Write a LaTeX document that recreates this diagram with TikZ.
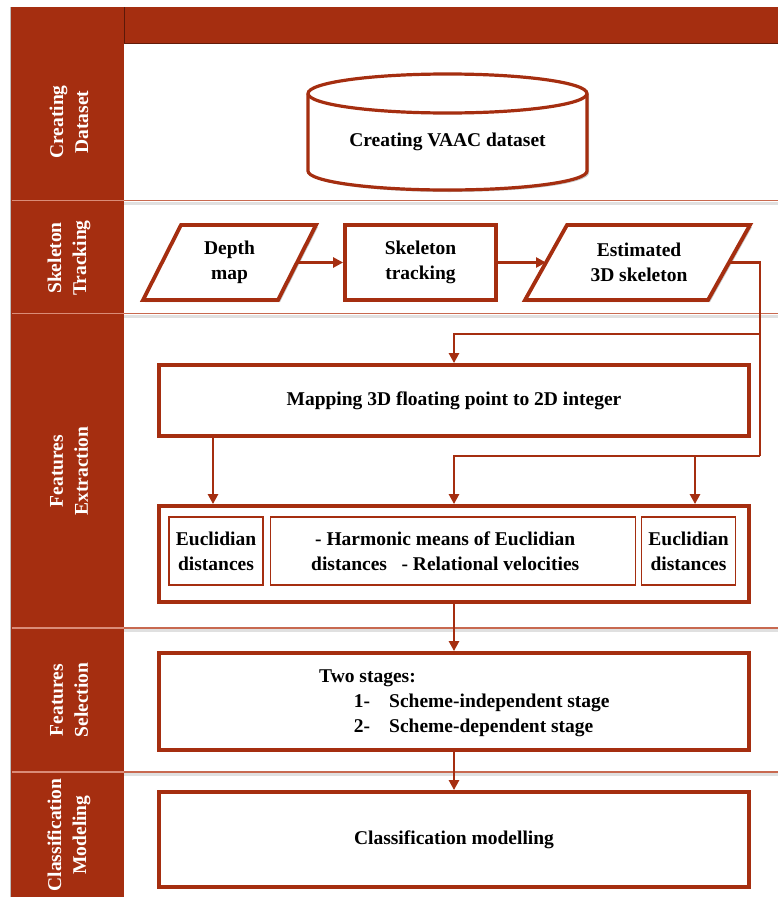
\documentclass[tikz,border=0pt]{standalone}
\usepackage{fontspec}
\setmainfont{Liberation Serif}
\usetikzlibrary{arrows.meta,shadows}
\definecolor{myred}{RGB}{165,46,16}
\definecolor{divred}{RGB}{200,105,80}
\definecolor{bandline}{RGB}{218,140,120}
\begin{document}
\begin{tikzpicture}[x=1pt,y=-1pt,
  font=\fontsize{19.5}{25}\selectfont\bfseries,
  shd/.style={drop shadow={shadow xshift=2pt,shadow yshift=-2pt,opacity=0.22,fill=black}},
  bigbox/.style={draw=myred,line width=3.8pt,fill=white,shd,minimum width=590pt,inner sep=0pt,align=center},
  smallbox/.style={draw=myred,line width=3.8pt,fill=white,shd,inner sep=0pt,align=center},
  inbox/.style={draw=myred,line width=1.3pt,inner sep=0pt,align=center,minimum height=68pt},
  para/.style={draw=myred,line width=3.8pt,fill=white,shd,line join=miter},
  txt/.style={align=center,inner sep=0pt},
  band/.style={text=white,rotate=90,align=center,inner sep=0pt},
  ln/.style={draw=myred,line width=2.7pt},
  arr/.style={ln,-{Triangle[length=10pt,width=10pt]}},
  divl/.style={draw=divred,line width=1.3pt},
  divs/.style={draw=black!12,line width=3pt},
  bandl/.style={draw=bandline,line width=1.8pt}
]
\useasboundingbox (0,0) rectangle (778,897);
% band and header
\fill[myred] (10,7) rectangle (778,43);
\fill[myred] (10,7) rectangle (124,897);
\draw[black!25,line width=0.8pt] (10,7) -- (10,897);
\draw[black!45!myred,line width=1pt] (124,7) -- (124,43);
\draw[black!40!myred,line width=1pt] (124,43) -- (778,43);
% dividers
\foreach \yy in {200.5,313.5,628,772}{
  \draw[divs] (124,\yy+2.5) -- (778,\yy+2.5);
  \draw[divl] (124,\yy) -- (778,\yy);
  \draw[bandl] (12,\yy) -- (124,\yy);
}
% band labels
\node[band] (l1) at (69,122) {Creating\\Dataset};
\node[band] (l2) at (69,258) {Skeleton\\Tracking};
\node[band] (l3) at (69,471) {Features\\Extraction};
\node[band] (l4) at (69,700) {Features\\Selection};
\node[band] (l5) at (69,835) {Classification\\Modeling};
% cylinder
\draw[draw=myred,line width=3.2pt,fill=white,shd]
  (308,93.5) -- (308,171) arc[start angle=180,end angle=0,x radius=139.5,y radius=19]
  -- (587,93.5) arc[start angle=0,end angle=-180,x radius=139.5,y radius=19.5] -- cycle;
\draw[draw=myred,line width=3.2pt] (308,93.5) arc[start angle=180,end angle=0,x radius=139.5,y radius=19.5];
\node[txt] (cy) at (447.5,142) {Creating VAAC dataset};
% skeleton tracking row
\draw[para] (143,300) -- (181,225) -- (316,225) -- (278,300) -- cycle;
\node[txt] (dm) at (229.5,262.5) {Depth\\map};
\node[smallbox,minimum width=151pt,minimum height=75pt] (sk) at (420.5,262.5) {Skeleton\\tracking};
\draw[para] (525,300) -- (567,225) -- (750,225) -- (708,300) -- cycle;
\node[txt] (es) at (639,262.5) {Estimated\\3D skeleton};
\coordinate (dmR) at (297,262.5);
\coordinate (esL) at (546,262.5);
\coordinate (esR) at (729,262.5);
% mapping box
\node[bigbox,minimum height=71pt] (map) at (454,400.5) {Mapping 3D floating point to 2D integer};
% features box
\node[bigbox,minimum height=96pt] (fx) at (454,554) {};
\node[inbox,minimum width=94pt] (e1) at (216,551) {Euclidian\\distances};
\node[inbox,minimum width=365pt] (hm) at (452.7,551) {\hspace*{-15pt}- Harmonic means of Euclidian\\\hspace*{-15pt}distances\hspace{0.75em}- Relational velocities};
\node[inbox,minimum width=94pt] (e2) at (688.5,551) {Euclidian\\distances};
% selection box
\node[bigbox,minimum height=97pt] (sel) at (454,701.5) {};
\node[anchor=west,inner sep=0pt] (st) at (319,702) {\begin{tabular}{@{}l@{}}Two stages:\\
\hspace*{34.6pt}\makebox[35.4pt][l]{1-}Scheme-independent stage\\
\hspace*{34.6pt}\makebox[35.4pt][l]{2-}Scheme-dependent stage\end{tabular}};
% classification box
\node[bigbox,minimum height=95pt] (cls) at (454,839.5) {Classification modelling};
% connectors
\coordinate (c1) at (760,262.5);
\coordinate (c4) at (760,334);
\coordinate (c5) at (454,334);
\coordinate (c2) at (760,456);
\coordinate (c3) at (454,456);
\coordinate (c6) at (695,456);
\draw[arr] (dmR) -- (sk.west);
\draw[arr] (sk.east) -- (esL);
\draw[ln,line join=miter] (esR) -- (c1) -- (c2);
\draw[arr] (c4) -- (c5) -- (map.north);
\draw[arr] (c2) -- (c3) -- (fx.north);
\draw[arr] (c6) -- ([xshift=241pt]fx.north);
\draw[arr] ([xshift=-241pt]map.south) -- ([xshift=-241pt]fx.north);
\draw[arr] (fx.south) -- (sel.north);
\draw[arr] (sel.south) -- (cls.north);
\end{tikzpicture}
\end{document}
